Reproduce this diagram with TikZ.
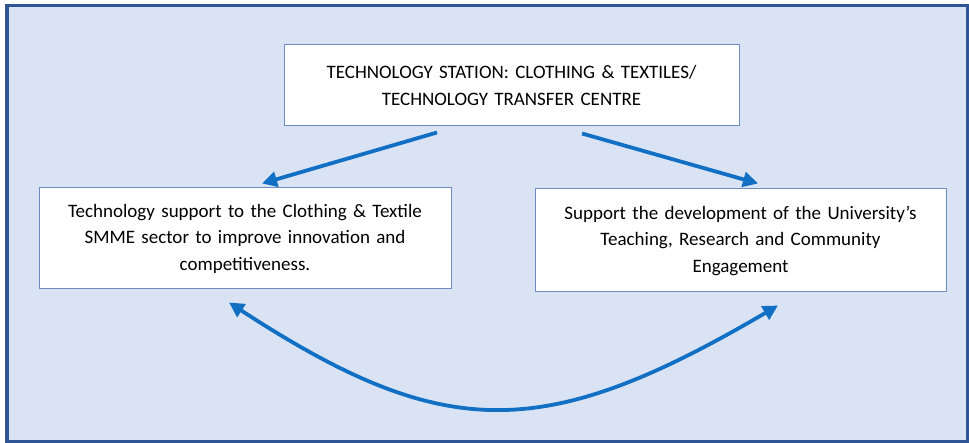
\documentclass[tikz,border=0pt]{standalone}
\usepackage{fontspec}
\setmainfont{Carlito}
\usetikzlibrary{arrows.meta}

\definecolor{panel}{HTML}{DAE3F3}
\definecolor{frameblue}{HTML}{2F5597}
\definecolor{boxline}{HTML}{6F8CC0}
\definecolor{flowblue}{HTML}{1270C4}

\begin{document}
\begin{tikzpicture}[x=1pt,y=-1pt,
  box/.style={draw=boxline, line width=1pt, fill=white, align=center,
    inner sep=0pt, font=\fontsize{19}{26.5}\selectfont},
  flow/.style={draw=flowblue, line width=3.8pt,
    -{Triangle[length=15pt,width=15pt]}}]
\useasboundingbox (0,0) rectangle (969,443);
\draw [frameblue, line width=3.6pt, fill=panel] (7,5.5) rectangle (967.5,441.5);
\node [box, minimum width=455pt, minimum height=81pt, text width=440pt] (top) at (511.5,85.5)
  {TECHNOLOGY STATION: CLOTHING \& TEXTILES/\\TECHNOLOGY TRANSFER CENTRE};
\node [box, minimum width=412pt, minimum height=101pt, text width=400pt] (lbox) at (245,238.5)
  {Technology support to the Clothing \& Textile\\SMME sector to improve innovation and\\competitiveness.};
\node [box, minimum width=411pt, minimum height=103pt, text width=400pt] (rbox) at (740.5,240.5)
  {Support the development of the University’s\\Teaching, Research and Community\\Engagement};
\draw [flow] ([xshift=-74.5pt,yshift=-6pt]top.south) -- ([xshift=17pt,yshift=4pt]lbox.north);
\draw [flow] ([xshift=70.5pt,yshift=-7pt]top.south) -- ([xshift=17.5pt,yshift=5pt]rbox.north);
\draw [flow, {Triangle[length=15pt,width=15pt]}-{Triangle[length=15pt,width=15pt]}]
  ([xshift=-16pt,yshift=-13pt]lbox.south) .. controls +(215,140) and +(-235,138) .. ([xshift=37.5pt,yshift=-13pt]rbox.south);
\end{tikzpicture}
\end{document}
